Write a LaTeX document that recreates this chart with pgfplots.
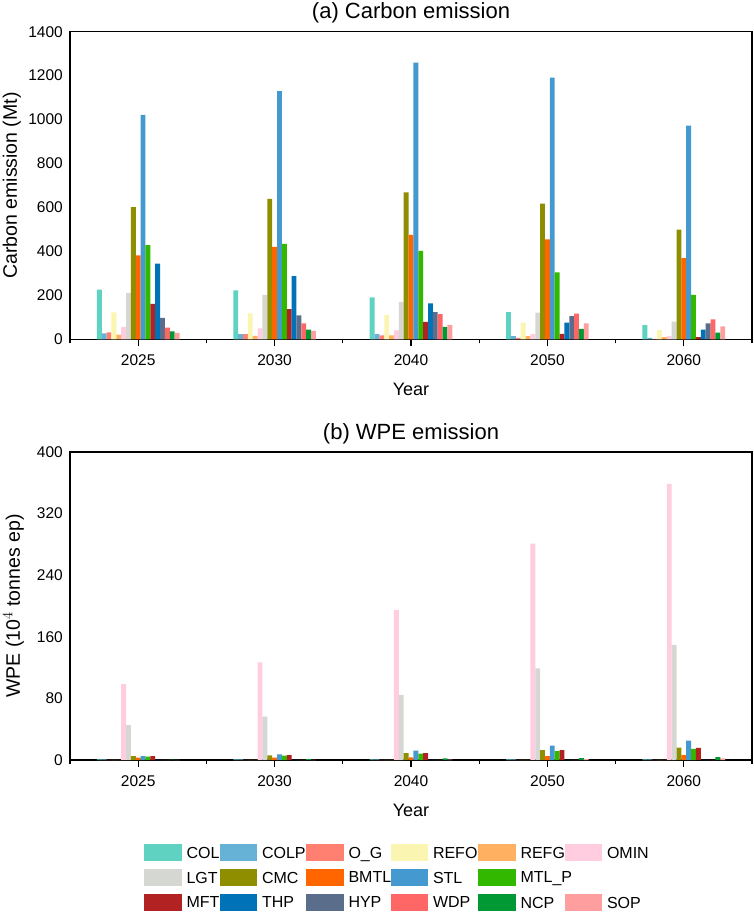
\documentclass[border=0pt]{standalone}
\usepackage{pgfplots}
\usepackage{pgfplotstable}
\pgfplotsset{compat=1.18}
\usepackage{fontspec}
\setmainfont{Liberation Sans}

\definecolor{cCOL}{RGB}{96,210,194}
\definecolor{cCOLP}{RGB}{102,178,214}
\definecolor{cOG}{RGB}{255,128,112}
\definecolor{cREFO}{RGB}{250,245,176}
\definecolor{cREFG}{RGB}{255,176,96}
\definecolor{cOMIN}{RGB}{255,204,224}
\definecolor{cLGT}{RGB}{213,216,210}
\definecolor{cCMC}{RGB}{142,142,0}
\definecolor{cBMTL}{RGB}{255,102,0}
\definecolor{cSTL}{RGB}{68,153,209}
\definecolor{cMTLP}{RGB}{51,184,0}
\definecolor{cMFT}{RGB}{178,34,34}
\definecolor{cTHP}{RGB}{0,114,184}
\definecolor{cHYP}{RGB}{90,110,140}
\definecolor{cWDP}{RGB}{255,102,102}
\definecolor{cNCP}{RGB}{0,153,51}
\definecolor{cSOP}{RGB}{255,158,158}

\pgfplotstableread{
x COL COLP OG REFO REFG OMIN LGT CMC BMTL STL MTLP MFT THP HYP WDP NCP SOP
0 226 27 32 123 21 56 211 602 382 1022 429 161 345 98 53 36 29
1 223 24 24 118 16 50 202 639 421 1129 434 137 288 109 73 44 38
2 191 23 18 111 18 41 170 669 475 1259 402 79 164 124 115 57 66
3 124 15 6 76 15 24 121 617 455 1191 305 25 76 105 117 47 73
4 65 7 2 42 10 14 80 499 369 972 202 10 44 73 91 30 59
}\carbon

\pgfplotstableread{
x COL COLP OG REFO REFG OMIN LGT CMC BMTL STL MTLP MFT THP HYP WDP NCP SOP
0 0.8 0.8 0.3 0.3 0.3 98.6 45.4 5.2 3.0 5.2 4.3 5.2 0.3 0.3 0.3 0.5 0.3
1 0.8 0.8 0.3 0.3 0.3 126.7 56.2 6.0 3.0 7.4 5.6 6.5 0.3 0.3 0.3 1.3 0.3
2 0.8 0.8 0.3 0.3 0.3 194.6 84.3 9.1 3.5 12.1 8.2 9.1 0.3 0.3 0.3 2.2 0.5
3 0.8 0.8 0.3 0.3 0.3 281.0 118.9 13.0 5.2 18.6 11.7 13.0 0.3 0.3 0.3 2.6 1.0
4 0.8 0.8 0.3 0.3 0.3 358.5 149.6 16.0 6.5 25.1 14.3 15.6 0.3 0.3 0.3 3.9 2.0
}\wpe

\pgfplotsset{
  swatch/.style={legend image code/.code={\fill[##1,draw=none] (0pt,-8.5pt) rectangle (37.5pt,8.5pt);}},
  common/.style={
    scale only axis,
    width=682pt,
    xmin=-0.5, xmax=4.5,
    ybar=0pt,
    bar width=4.86pt,
    xtick={0,1,2,3,4},
    xticklabels={2025,2030,2040,2050,2060},
    minor xtick={-0.5,0.5,1.5,2.5,3.5,4.5},
    xtick pos=bottom,
    ytick pos=left,
    tick align=outside,
    major tick length=7pt,
    minor tick length=4pt,
    ytick style={draw=none},
    axis line style={line width=1.1pt, black},
    every tick/.style={line width=1.1pt, black},
    /pgf/number format/assume math mode=true,
    /pgf/number format/1000 sep={},
    tick label style={font=\fontsize{15.5}{16}\selectfont, inner sep=0pt},
    xticklabel style={anchor=base, yshift=-19pt},
    yticklabel style={anchor=east},
    xlabel={Year},
    xlabel style={font=\fontsize{18}{20}\selectfont, at={(axis description cs:0.5,0)}, anchor=base, yshift=-56pt, inner sep=0pt},
    title style={font=\fontsize{22}{24}\selectfont, at={(axis description cs:0.5,1)}, anchor=base, inner sep=0pt},
    ylabel style={font=\fontsize{19.5}{22}\selectfont, at={(axis description cs:0,0.5)}, anchor=base, inner sep=0pt},
    clip=false,
  },
}

\begin{document}
\begin{tikzpicture}
\useasboundingbox (0pt,0pt) rectangle (754pt,-915pt);
\begin{axis}[common,
  at={(70pt,-339.3pt)}, anchor=south west,
  height=307.6pt,
  ymin=0, ymax=1400, ytick={0,200,...,1400},
  title={(a) Carbon emission},
  title style={yshift=7.5pt},
  ylabel={Carbon emission (Mt)},
  ylabel style={yshift=53pt},
]
\addplot[fill=cCOL,draw=none] table[x=x,y=COL]{\carbon};
\addplot[fill=cCOLP,draw=none] table[x=x,y=COLP]{\carbon};
\addplot[fill=cOG,draw=none] table[x=x,y=OG]{\carbon};
\addplot[fill=cREFO,draw=none] table[x=x,y=REFO]{\carbon};
\addplot[fill=cREFG,draw=none] table[x=x,y=REFG]{\carbon};
\addplot[fill=cOMIN,draw=none] table[x=x,y=OMIN]{\carbon};
\addplot[fill=cLGT,draw=none] table[x=x,y=LGT]{\carbon};
\addplot[fill=cCMC,draw=none] table[x=x,y=CMC]{\carbon};
\addplot[fill=cBMTL,draw=none] table[x=x,y=BMTL]{\carbon};
\addplot[fill=cSTL,draw=none] table[x=x,y=STL]{\carbon};
\addplot[fill=cMTLP,draw=none] table[x=x,y=MTLP]{\carbon};
\addplot[fill=cMFT,draw=none] table[x=x,y=MFT]{\carbon};
\addplot[fill=cTHP,draw=none] table[x=x,y=THP]{\carbon};
\addplot[fill=cHYP,draw=none] table[x=x,y=HYP]{\carbon};
\addplot[fill=cWDP,draw=none] table[x=x,y=WDP]{\carbon};
\addplot[fill=cNCP,draw=none] table[x=x,y=NCP]{\carbon};
\addplot[fill=cSOP,draw=none] table[x=x,y=SOP]{\carbon};
\end{axis}

\begin{axis}[common,
  at={(70pt,-760pt)}, anchor=south west,
  height=308pt,
  ymin=0, ymax=400, ytick={0,80,...,400},
  title={(b) WPE emission},
  title style={yshift=6.7pt},
  ylabel={WPE (10$^4$ tonnes ep)},
  ylabel style={yshift=50pt},
  legend columns=6,
  legend cell align=left,
  legend style={at={(axis description cs:0.1085,-0.2725)}, anchor=north west,
    draw=none, fill=none, inner sep=0pt, outer sep=0pt,
    column sep=0pt, row sep=8pt,
    font=\fontsize{16}{18}\selectfont,
    nodes={inner sep=0pt, text depth=0pt}},
]
\addplot[fill=cCOL,draw=none,swatch] table[x=x,y=COL]{\wpe};
\addlegendentry{\makebox[38pt][l]{\hspace*{5pt}COL}}
\addplot[fill=cCOLP,draw=none,swatch] table[x=x,y=COLP]{\wpe};
\addlegendentry{\makebox[49pt][l]{\hspace*{5pt}COLP}}
\addplot[fill=cOG,draw=none,swatch] table[x=x,y=OG]{\wpe};
\addlegendentry{\makebox[47pt][l]{\hspace*{5pt}O\_G}}
\addplot[fill=cREFO,draw=none,swatch] table[x=x,y=REFO]{\wpe};
\addlegendentry{\makebox[50pt][l]{\hspace*{5pt}REFO}}
\addplot[fill=cREFG,draw=none,swatch] table[x=x,y=REFG]{\wpe};
\addlegendentry{\makebox[49pt][l]{\hspace*{5pt}REFG}}
\addplot[fill=cOMIN,draw=none,swatch] table[x=x,y=OMIN]{\wpe};
\addlegendentry{\makebox[50pt][l]{\hspace*{5pt}OMIN}}
\addplot[fill=cLGT,draw=none,swatch] table[x=x,y=LGT]{\wpe};
\addlegendentry{\makebox[38pt][l]{\hspace*{5pt}LGT}}
\addplot[fill=cCMC,draw=none,swatch] table[x=x,y=CMC]{\wpe};
\addlegendentry{\makebox[49pt][l]{\hspace*{5pt}CMC}}
\addplot[fill=cBMTL,draw=none,swatch] table[x=x,y=BMTL]{\wpe};
\addlegendentry{\makebox[47pt][l]{\hspace*{5pt}BMTL}}
\addplot[fill=cSTL,draw=none,swatch] table[x=x,y=STL]{\wpe};
\addlegendentry{\makebox[50pt][l]{\hspace*{5pt}STL}}
\addplot[fill=cMTLP,draw=none,swatch] table[x=x,y=MTLP]{\wpe};
\addlegendentry{\makebox[49pt][l]{\hspace*{5pt}MTL\_P}}
\addlegendimage{empty legend}
\addlegendentry{}
\addplot[fill=cMFT,draw=none,swatch] table[x=x,y=MFT]{\wpe};
\addlegendentry{\makebox[38pt][l]{\hspace*{5pt}MFT}}
\addplot[fill=cTHP,draw=none,swatch] table[x=x,y=THP]{\wpe};
\addlegendentry{\makebox[49pt][l]{\hspace*{5pt}THP}}
\addplot[fill=cHYP,draw=none,swatch] table[x=x,y=HYP]{\wpe};
\addlegendentry{\makebox[47pt][l]{\hspace*{5pt}HYP}}
\addplot[fill=cWDP,draw=none,swatch] table[x=x,y=WDP]{\wpe};
\addlegendentry{\makebox[50pt][l]{\hspace*{5pt}WDP}}
\addplot[fill=cNCP,draw=none,swatch] table[x=x,y=NCP]{\wpe};
\addlegendentry{\makebox[49pt][l]{\hspace*{5pt}NCP}}
\addplot[fill=cSOP,draw=none,swatch] table[x=x,y=SOP]{\wpe};
\addlegendentry{\makebox[50pt][l]{\hspace*{5pt}SOP}}
\end{axis}
\end{tikzpicture}
\end{document}
